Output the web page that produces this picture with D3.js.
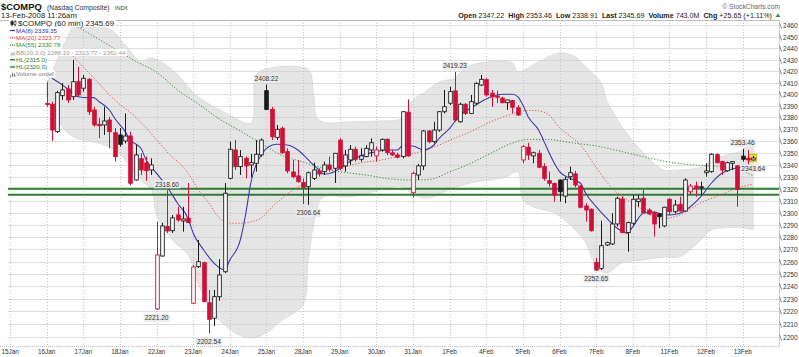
<!DOCTYPE html>
<html><head><meta charset="utf-8">
<script src="https://cdn.jsdelivr.net/npm/d3@7"></script>
<style>
html,body{margin:0;padding:0;background:#fff;}
svg{display:block;font-family:"Liberation Sans",Arial,sans-serif;}
</style></head><body>
<svg id="c" width="799" height="357"></svg>
<script>
// ---------------- DATA ----------------
const days = ["15Jan","16Jan","17Jan","18Jan","22Jan","23Jan","24Jan","25Jan","28Jan","29Jan","30Jan","31Jan","1Feb","4Feb","5Feb","6Feb","7Feb","8Feb","11Feb","12Feb","13Feb"];
const barsPerDay = 7;
const firstBar = 7; // 15Jan has no bars drawn
const yTicks = [2200,2210,2220,2230,2240,2250,2260,2270,2280,2290,2300,2310,2320,2330,2340,2350,2360,2370,2380,2390,2400,2410,2420,2430,2440,2450,2460];

const opens = [2392.0,2391.3,2367.9,2398.7,2404.5,2397.8,2410.7, 2405.1,2412.8,2386.4,2374.1,2373.6,2377.8,2367.0, 2365.1,2360.0,2364.2,2327.2,2345.1,2341.5,2335.6, 2222.0,2264.6,2288.6,2285.3,2298.2,2293.3,2295.5, 2226.6,2256.0,2259.2,2227.0,2214.6,2231.8,2251.9, 2328.6,2352.4,2338.4,2345.4,2339.8,2341.2,2348.2, 2403.0,2386.9,2363.1,2370.8,2351.0,2333.9,2330.6, 2325.0,2321.6,2328.6,2334.8,2334.2,2339.8,2337.0, 2360.8,2339.0,2344.0,2353.0,2344.6,2346.8,2352.4, 2347.4,2352.4,2361.4,2350.0,2348.2,2346.8,2384.5, 2316.6,2331.4,2339.0,2368.5,2359.4,2369.3,2384.9, 2392.2,2402.8,2376.3,2391.3,2383.5,2392.2,2407.9, 2412.5,2400.8,2398.4,2396.5,2392.6,2394.4,2388.3, 2344.0,2354.7,2347.4,2349.6,2338.4,2326.6,2324.3, 2327.2,2313.8,2330.0,2332.3,2322.2,2305.6,2302.9, 2259.5,2254.6,2273.6,2274.4,2290.8,2311.4,2283.7, 2291.4,2309.2,2312.0,2302.3,2300.1,2299.0,2289.2, 2311.2,2300.9,2307.0,2301.5,2317.4,2322.2,2320.8, 2333.3,2334.2,2348.5,2342.6,2335.0,2341.2,2339.0, 2347.22,2345.4,2344.0];
const highs = [2410.5,2393.5,2402.8,2409.6,2407.9,2429.6,2423.8, 2416.5,2413.7,2389.2,2379.5,2389.2,2380.6,2371.0, 2371.0,2383.5,2367.9,2356.6,2349.6,2346.8,2345.4, 2292.7,2291.7,2318.6,2298.2,2305.0,2305.0,2324.7, 2257.4,2277.7,2260.0,2237.2,2237.2,2262.0,2324.7, 2359.4,2360.8,2352.4,2346.8,2349.0,2360.8,2362.2, 2408.22,2389.2,2373.6,2372.1,2353.8,2344.0,2344.0, 2328.6,2334.2,2341.7,2337.0,2342.6,2346.8,2349.9, 2362.2,2352.4,2356.6,2355.2,2353.8,2356.6,2362.2, 2355.2,2362.2,2362.2,2352.4,2350.1,2385.5,2395.6, 2334.2,2340.6,2369.3,2369.3,2376.3,2385.5,2403.6, 2406.4,2419.23,2392.6,2392.2,2399.3,2410.2,2416.5, 2413.7,2403.6,2403.0,2397.8,2395.2,2395.0,2390.6, 2356.6,2358.5,2351.0,2352.4,2341.2,2334.2,2325.0, 2327.6,2330.0,2338.4,2334.8,2323.0,2307.9,2303.7, 2263.0,2293.5,2276.3,2299.6,2313.3,2313.3,2292.7, 2314.7,2314.7,2319.0,2303.7,2300.9,2299.8,2305.0, 2312.0,2310.6,2313.3,2328.6,2323.9,2325.8,2325.8, 2341.2,2349.6,2349.6,2343.4,2342.6,2342.8,2339.8, 2353.46,2352.4,2347.5];
const lows = [2389.2,2360.2,2366.8,2395.0,2392.4,2395.0,2397.8, 2402.2,2382.1,2372.1,2362.5,2365.1,2353.8,2342.6, 2355.2,2358.0,2323.0,2326.6,2331.4,2326.6,2331.4, 2221.2,2264.1,2283.4,2283.4,2292.7,2284.5,2291.7, 2226.0,2254.9,2227.4,2202.54,2208.5,2228.6,2250.9, 2327.8,2335.6,2331.4,2328.6,2329.4,2334.2,2346.8, 2386.4,2360.8,2360.8,2349.0,2332.8,2328.6,2325.0, 2307.3,2306.64,2327.2,2330.0,2331.4,2334.2,2324.7, 2335.6,2334.2,2339.8,2342.6,2342.6,2346.3,2346.8, 2342.6,2351.0,2348.2,2347.4,2345.4,2345.4,2346.8, 2312.8,2327.2,2335.6,2358.0,2358.0,2367.9,2383.5, 2390.6,2376.3,2375.5,2382.1,2382.9,2390.6,2407.1, 2397.8,2389.2,2392.2,2392.2,2386.4,2383.5,2381.2, 2341.2,2344.0,2341.2,2337.0,2326.6,2321.6,2309.2, 2309.2,2307.9,2327.2,2321.1,2303.7,2292.7,2284.5, 2252.65,2253.2,2272.7,2273.6,2288.6,2283.2,2268.1, 2290.0,2305.0,2299.6,2298.2,2280.4,2287.3,2288.1, 2298.2,2299.6,2300.9,2300.9,2315.5,2313.3,2314.7, 2330.0,2333.3,2341.2,2331.4,2334.2,2335.6,2305.0, 2342.6,2338.91,2343.64];
const closes = [2391.1,2369.3,2401.3,2403.6,2395.0,2410.7,2399.3, 2413.7,2384.9,2373.6,2372.9,2377.0,2367.9,2346.8, 2357.2,2364.2,2324.5,2348.2,2335.6,2335.0,2339.8, 2265.5,2289.2,2285.1,2295.8,2294.1,2294.9,2291.9, 2255.7,2260.0,2227.8,2213.8,2231.8,2249.3,2316.2, 2353.0,2338.4,2346.8,2339.0,2341.7,2348.8,2360.8, 2386.9,2363.6,2369.9,2350.1,2334.8,2330.0,2325.8, 2321.1,2333.3,2335.6,2332.3,2339.8,2336.2,2349.6, 2337.0,2348.2,2353.0,2344.6,2347.4,2353.8,2358.5, 2352.4,2361.4,2350.1,2348.2,2346.3,2384.9,2347.4, 2332.8,2339.0,2368.5,2359.4,2369.3,2384.9,2389.2, 2402.2,2377.8,2391.3,2383.5,2393.5,2409.3,2412.8, 2399.3,2397.8,2397.3,2392.6,2395.0,2388.7,2382.1, 2355.2,2348.2,2350.1,2337.9,2328.6,2324.5,2314.7, 2317.4,2327.8,2333.3,2323.0,2304.6,2302.3,2285.3, 2253.2,2273.0,2275.5,2290.8,2312.0,2283.7,2291.9, 2311.2,2311.4,2300.1,2299.0,2290.8,2296.8,2304.6, 2300.9,2306.4,2301.5,2327.2,2322.2,2320.3,2321.6, 2334.8,2348.8,2341.7,2335.6,2341.7,2342.6,2319.3, 2344.6,2344.0,2345.69];

// indicator readings: [bar index, value]
const ma8 = [[8,2413.7],[10,2407.9],[12,2400.8],[13,2397.8],[15,2397.0],[16,2397.0],[17,2393.5],[19,2386.4],[20,2379.3],[22,2367.9],[23,2360.8],[25,2353.8],[26,2344.0],[28,2332.8],[30,2321.6],[32,2307.9],[34,2295.5],[35,2283.2],[37,2269.5],[39,2258.7],[41,2253.3],[42,2261.4],[44,2277.7],[45,2298.2],[46,2324.7],[47,2339.8],[48,2348.2],[49,2353.8],[51,2357.2],[53,2356.6],[55,2352.4],[57,2344.0],[59,2335.6],[60,2332.0],[62,2334.2],[64,2339.8],[66,2345.4],[70,2351.0],[72,2352.4],[74,2352.4],[75,2356.0],[77,2355.8],[79,2352.4],[81,2356.6],[82,2362.2],[84,2370.8],[86,2382.1],[88,2387.9],[90,2393.5],[92,2397.8],[94,2399.9],[96,2399.9],[97,2397.8],[98,2390.6],[99,2380.6],[101,2369.3],[102,2359.9],[103,2350.1],[104,2341.2],[105,2334.2],[107,2328.6],[109,2324.5],[110,2316.2],[112,2305.0],[114,2295.5],[116,2287.3],[118,2283.2],[119,2288.6],[121,2299.6],[123,2300.9],[124,2299.6],[126,2298.2],[128,2299.6],[130,2305.0],[132,2313.3],[134,2324.5],[136,2332.8],[138,2336.4],[140,2338.0],[142,2339.35]];
const ma20 = [[12,2433.1],[16,2413.9],[20,2395.0],[24,2380.4],[28,2361.0],[30,2350.9],[34,2333.1],[36,2319.0],[38,2307.9],[40,2295.7],[42,2291.4],[44,2291.4],[46,2292.5],[48,2295.7],[50,2304.4],[52,2312.2],[54,2318.6],[56,2323.9],[58,2330.6],[60,2335.2],[62,2335.6],[64,2338.1],[67,2341.5],[71,2344.0],[75,2347.8],[79,2351.6],[82,2356.6],[85,2362.5],[88,2367.9],[92,2376.6],[96,2383.0],[99,2386.0],[101,2385.6],[103,2382.1],[105,2371.4],[107,2364.2],[109,2356.6],[112,2337.7],[115,2320.5],[118,2310.6],[121,2302.3],[124,2294.9],[128,2298.2],[132,2308.2],[136,2315.2],[140,2321.8],[142,2323.77]];
const ma55 = [[12,2461.6],[13,2458.5],[16,2450.3],[20,2439.4],[24,2428.4],[28,2419.0],[32,2403.6],[36,2391.5],[40,2378.6],[44,2368.5],[48,2357.9],[52,2347.8],[56,2342.3],[60,2336.7],[64,2333.5],[68,2331.4],[72,2328.5],[76,2327.2],[80,2327.6],[84,2333.9],[88,2341.2],[92,2349.9],[96,2358.3],[99,2361.4],[103,2361.2],[107,2358.7],[112,2355.8],[117,2351.0],[122,2345.7],[127,2341.5],[132,2339.4],[137,2338.1],[142,2330.78]];
const bbUpper = [[7,2408.0],[9,2430.0],[11,2450.0],[12,2457.6],[19,2456.7],[22,2442.8],[25,2428.0],[27,2431.5],[31,2421.1],[36,2397.6],[42,2382.1],[46,2375.3],[47,2416.5],[49,2422.0],[57,2421.1],[58,2399.3],[59,2377.8],[65,2376.3],[70,2377.0],[75,2379.5],[77,2395.0],[79,2401.0],[82,2410.5],[85,2414.0],[87,2422.8],[90,2427.1],[96,2427.1],[97,2419.3],[101,2428.0],[105,2435.9],[108,2432.4],[110,2423.7],[113,2409.6],[114,2395.0],[115,2386.4],[117,2371.8],[120,2354.9],[123,2341.5],[125,2335.6],[128,2335.6],[132,2338.1],[134,2344.0],[137,2348.2],[140,2352.4],[142,2361.44]];
const bbLower = [[7,2398.0],[9,2377.8],[12,2363.6],[17,2358.0],[20,2352.4],[22,2344.0],[25,2327.2],[27,2319.0],[28,2298.2],[31,2277.7],[34,2265.5],[36,2241.2],[38,2225.2],[40,2213.2],[43,2203.0],[46,2199.0],[49,2203.0],[52,2213.2],[56,2225.2],[57,2261.4],[59,2307.9],[60,2313.3],[65,2313.3],[68,2315.5],[72,2320.5],[75,2321.6],[77,2314.7],[80,2312.2],[84,2319.0],[88,2324.7],[92,2327.2],[95,2330.0],[97,2333.9],[98,2310.6],[100,2304.8],[104,2299.8],[107,2290.0],[110,2275.3],[112,2255.7],[114,2250.9],[117,2259.0],[121,2261.4],[125,2263.8],[128,2264.1],[132,2277.7],[134,2285.9],[136,2287.5],[140,2287.5],[142,2286.10]];
const hlLevels = [2315.0, 2320.0];

const annValues = [2318.60,2221.20,2202.54,2408.22,2306.64,2419.23,2252.65,2353.46,2343.64];
const annBars   = [30,28,38,49,57,85,112,140,142];
const annSide   = ["above","below","below","above","below","above","below","above","below"];

const legendLabels = ["$COMPQ (60 min) 2345.69","MA(8) 2339.35","MA(20) 2323.77","MA(55) 2330.78","BB(20,2.0) 2286.10 - 2323.77 - 2361.44","HL(2315.0)","HL(2320.0)","Volume undef"];
const headerKeys = ["Open","High","Low","Last","Volume","Chg"];
const headerVals = ["2347.22","2353.46","2338.91","2345.69","743.0M","+25.65 (+1.11%)"];

// ---------------- CHART ----------------
const svg = d3.select("#c");
const P = {l:8, r:779.5, t:20, b:346.5};
const x = d3.scaleLinear().domain([0,140]).range([10.07,742.7]);
const y = d3.scaleLog().domain([2200,2460]).range([336.7,25.3]);
const RED = "#d0103a", BLK = "#1a1a1a";
const bars = opens.map((o,k)=>({i:firstBar+k,o,h:highs[k],l:lows[k],c:closes[k],pc:k?closes[k-1]:o}));

function fit(sel,w){const bw=sel.node().getBBox().width;const fs=parseFloat(sel.attr("font-size"));sel.attr("font-size",fs*w/bw);}

svg.append("rect").attr("width",799).attr("height",357).attr("fill","#fff");
svg.append("defs").append("clipPath").attr("id","pc").append("rect")
  .attr("x",P.l).attr("y",P.t).attr("width",P.r-P.l).attr("height",P.b-P.t);
const g = svg.append("g").attr("clip-path","url(#pc)");

// Bollinger band fill
const lineGen = d3.line().x(d=>x(d[0])).y(d=>y(d[1])).curve(d3.curveCatmullRom.alpha(0.5));
const upPath = lineGen(bbUpper);
const loPath = lineGen(bbLower.slice().reverse());
g.append("path").attr("d", upPath + "L" + loPath.slice(1) + "Z")
  .attr("fill","#e5e5e5").attr("stroke","#d4d4d4").attr("stroke-width",0.6);

// horizontal grid
g.selectAll(".hg").data(yTicks).join("line")
  .attr("x1",P.l).attr("x2",P.r).attr("y1",d=>Math.round(y(d))+0.5).attr("y2",d=>Math.round(y(d))+0.5)
  .attr("stroke","#cfcfcf").attr("stroke-opacity",0.7).attr("stroke-width",1);
// vertical grid
g.selectAll(".vg").data(days).join("line")
  .attr("x1",(d,j)=>Math.round(x(j*barsPerDay))+0.5).attr("x2",(d,j)=>Math.round(x(j*barsPerDay))+0.5)
  .attr("y1",P.t).attr("y2",P.b).attr("stroke","#c4c4c4").attr("stroke-dasharray","1,2");

// HL lines
g.selectAll(".hl").data(hlLevels).join("line")
  .attr("x1",P.l).attr("x2",P.r).attr("y1",d=>y(d)).attr("y2",d=>y(d))
  .attr("stroke","#2f7d32").attr("stroke-width",2);

// moving averages
const maLine = d3.line().x(d=>x(d[0])).y(d=>y(d[1])).curve(d3.curveMonotoneX);
g.append("path").attr("d",maLine(ma55)).attr("fill","none").attr("stroke","#3c8c3c").attr("stroke-width",1).attr("stroke-dasharray","1.2,1.8");
g.append("path").attr("d",maLine(ma20)).attr("fill","none").attr("stroke","#e0504a").attr("stroke-width",1).attr("stroke-dasharray","1.2,1.8");
g.append("path").attr("d",maLine(ma8)).attr("fill","none").attr("stroke","#3b3ba6").attr("stroke-width",1.1);

// last bar highlight
const last = bars[bars.length-1];
g.append("rect").attr("x",x(last.i)-3.5).attr("y",y(last.h)-1.5).attr("width",7).attr("height",y(last.l)-y(last.h)+3)
  .attr("fill","#f2e43a").attr("stroke","#c8b400").attr("stroke-width",0.8);

// candles
const bw = 3.6;
const cg = g.append("g");
bars.forEach(b=>{
  const col = b.c < b.pc ? RED : BLK;
  const hollow = b.c > b.o;
  const cx = Math.round(x(b.i))+0.5;
  cg.append("line").attr("x1",cx).attr("x2",cx).attr("y1",y(b.h)).attr("y2",y(b.l)).attr("stroke",col).attr("stroke-width",1);
  const top = y(Math.max(b.o,b.c)), bot = y(Math.min(b.o,b.c));
  cg.append("rect").attr("x",cx-bw/2).attr("y",top).attr("width",bw).attr("height",Math.max(bot-top,0.8))
    .attr("fill",hollow?"#fff":col).attr("stroke",col).attr("stroke-width",0.9);
});

// annotations
annValues.forEach((v,k)=>{
  const cx = x(annBars[k]);
  const cy = annSide[k]==="above" ? y(v)-6 : y(v)+8;
  const t = svg.append("text").attr("x",cx).attr("y",cy).attr("dy","0.35em").attr("text-anchor","middle")
    .attr("font-size",6.6).attr("fill","#333").text(v.toFixed(2));
  const bb = t.node().getBBox();
  svg.insert("rect","text:last-child").attr("x",bb.x-1).attr("y",cy-4).attr("width",bb.width+2).attr("height",8).attr("fill","#ececec");
});

// plot frame
svg.append("line").attr("x1",0).attr("x2",P.r).attr("y1",P.t+0.5).attr("y2",P.t+0.5).attr("stroke","#bdbdbd");
svg.append("line").attr("x1",0).attr("x2",P.r).attr("y1",P.b).attr("y2",P.b).attr("stroke","#bdbdbd").attr("stroke-dasharray","1,1");
svg.append("line").attr("x1",P.r).attr("x2",P.r).attr("y1",P.t).attr("y2",P.b).attr("stroke","#d0d0d0");

// y axis
yTicks.forEach(v=>{
  const yy = Math.round(y(v))+0.5;
  svg.append("line").attr("x1",P.r).attr("x2",P.r+2).attr("y1",yy-3).attr("y2",yy+3).attr("stroke","#888");
  svg.append("text").attr("x",783).attr("y",yy).attr("dy","0.35em").attr("font-size",6.6).attr("fill","#333").text(v);
});
// x axis
days.forEach((d,j)=>{
  svg.append("text").attr("x", j===0 ? 1.5 : x(j*barsPerDay)).attr("y",352).attr("dy","0.35em")
    .attr("text-anchor", j===0 ? "start" : "middle").attr("font-size",6.4).attr("fill","#333").text(d);
});

// legend
const legY = [23.3,30.5,37.8,45.1,52.4,59.7,67.0,73.8];
const legCol = ["#222","#333399","#d94040","#2e8b2e","#9a9a9a","#2e7d32","#2e7d32","#777"];
legendLabels.forEach((s,k)=>{
  const fs = k===0 ? 7.9 : 6.2;
  const tx = k===0 ? 18 : 16;
  const t = svg.append("text").attr("x",tx).attr("y",legY[k]).attr("dy","0.35em").attr("font-size",fs).attr("fill",legCol[k]).text(s);
  const bb = t.node().getBBox();
  svg.insert("rect","text:last-child").attr("x",9).attr("y",legY[k]-3.6).attr("width",bb.x+bb.width-8).attr("height",7.2).attr("fill","#fff");
  const m = svg.append("g");
  const yy = legY[k];
  if(k===0){
    m.append("line").attr("x1",12).attr("x2",12).attr("y1",yy-3).attr("y2",yy+3).attr("stroke","#222");
    m.append("rect").attr("x",10.5).attr("y",yy-2).attr("width",3).attr("height",3.5).attr("fill","#222");
    m.append("line").attr("x1",15).attr("x2",15).attr("y1",yy-3).attr("y2",yy+3).attr("stroke","#222");
    m.append("rect").attr("x",14).attr("y",yy-1.5).attr("width",2).attr("height",2.5).attr("fill","#fff").attr("stroke","#222").attr("stroke-width",0.6);
  } else if(k===1){
    m.append("line").attr("x1",10).attr("x2",15).attr("y1",yy).attr("y2",yy).attr("stroke","#333399").attr("stroke-width",1.2);
  } else if(k===2||k===3){
    m.append("line").attr("x1",10).attr("x2",15).attr("y1",yy).attr("y2",yy).attr("stroke",legCol[k]).attr("stroke-width",1.2).attr("stroke-dasharray","1,1");
  } else if(k===4){
    m.append("path").attr("d",`M10,${yy+3}L11.5,${yy-1}L13,${yy+1}L14.5,${yy-2}L15.5,${yy+3}Z`).attr("fill","#c8c8c8");
  } else if(k===5||k===6){
    m.append("line").attr("x1",10).attr("x2",15).attr("y1",yy).attr("y2",yy).attr("stroke","#2e7d32").attr("stroke-width",1.4);
  } else {
    [[10,2],[12,4],[14,3]].forEach(([bx,hh])=>m.append("rect").attr("x",bx).attr("y",yy+3-hh).attr("width",1.3).attr("height",hh).attr("fill","#888"));
  }
});

// header
const h1 = svg.append("text").attr("x",1).attr("y",10).attr("font-size",10).attr("font-weight","bold").attr("fill","#111").text("$COMPQ");
fit(h1,41);
const h2 = svg.append("text").attr("x",47).attr("y",10).attr("font-size",7.5).attr("fill","#333").text("(Nasdaq Composite)");
fit(h2,63);
const h3 = svg.append("text").attr("x",115).attr("y",10).attr("font-size",7.5).attr("fill","#333").text("INDX");
fit(h3,13);
const h4 = svg.append("text").attr("x",1).attr("y",18).attr("font-size",7.5).attr("fill","#222").text("13-Feb-2008 11:26am");
fit(h4,76);
const h5 = svg.append("text").attr("x",780).attr("y",8.5).attr("text-anchor","end").attr("font-size",7).attr("fill","#666").text("\u00a9 StockCharts.com");
fit(h5,58);
const hr = svg.append("text").attr("x",772).attr("y",18).attr("text-anchor","end").attr("font-size",7.5).attr("fill","#222").style("white-space","pre");
headerKeys.forEach((k,j)=>{
  hr.append("tspan").attr("font-weight","bold").text((j?"  ":"")+k);
  hr.append("tspan").text(" "+headerVals[j]);
});
fit(hr,315);
svg.append("path").attr("d","M775.5,17L778,13.5L780.5,17Z").attr("fill","#2a9a2a");
</script>
</body></html>
